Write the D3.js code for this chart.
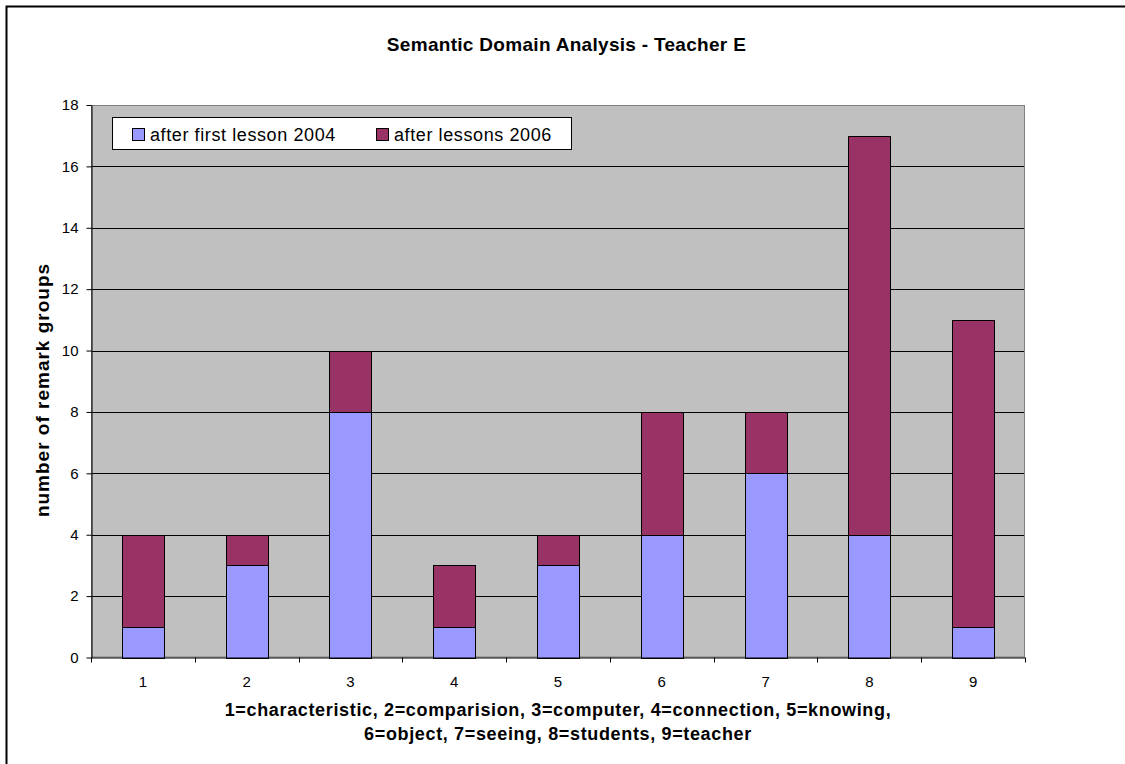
<!DOCTYPE html>
<html><head><meta charset="utf-8">
<script src="https://cdn.jsdelivr.net/npm/d3@7"></script>
<style>body{margin:0;background:#fff;}svg{display:block;font-family:"Liberation Sans",Arial,sans-serif;}</style>
</head><body>
<svg id="c" width="1125" height="764"></svg>
<script>
const categories = ["1","2","3","4","5","6","7","8","9"];
const series1 = [1,3,8,1,3,4,6,4,1];
const series2 = [3,1,2,2,1,4,2,13,10];
const seriesNames = ["after first lesson 2004","after lessons 2006"];
const colors = ["#9999FF","#993366"];
const yTicks = [0,2,4,6,8,10,12,14,16,18];

const svg = d3.select("#c");
const L = 91, R = 1025, T = 105, B = 657.5;

svg.append("rect").attr("x",6.5).attr("y",6.5).attr("width",1140).attr("height",780)
  .attr("fill","#fff").attr("stroke","#000").attr("stroke-width",2);

const x = d3.scaleBand().domain(categories).range([L,R]).paddingInner(0.595).paddingOuter(0.2975);
const y = d3.scaleLinear().domain([0,18]).range([B,T]);

svg.append("rect").attr("x",L).attr("y",T).attr("width",R-L).attr("height",B-T)
  .attr("fill","#C0C0C0");

svg.append("g").selectAll("line").data(yTicks.slice(1)).join("line")
  .attr("x1",L).attr("x2",R).attr("y1",d=>Math.round(y(d))+0.5).attr("y2",d=>Math.round(y(d))+0.5)
  .attr("stroke","#000").attr("stroke-width",1);

svg.append("rect").attr("x",L+0.5).attr("y",T+0.5).attr("width",R-L-1).attr("height",B-T-1)
  .attr("fill","none").attr("stroke","#808080").attr("stroke-width",1);

const stack = d3.stack().keys([0,1])(categories.map((c,i)=>({0:series1[i],1:series2[i],cat:c})));
svg.append("g").selectAll("g").data(stack).join("g").attr("fill",(d,i)=>colors[i])
  .selectAll("rect").data(d=>d).join("rect")
  .attr("x",d=>Math.round(x(d.data.cat))+0.5)
  .attr("y",d=>Math.round(y(d[1]))+0.5)
  .attr("width",Math.round(x.bandwidth()))
  .attr("height",d=>Math.round(y(d[0]))-Math.round(y(d[1])))
  .attr("stroke","#000").attr("stroke-width",1);

// y axis
const ya = svg.append("g").attr("transform",`translate(${L+0.5},0)`)
  .call(d3.axisLeft(y).tickValues(yTicks).tickSize(5).tickPadding(8).tickSizeOuter(0));
ya.select(".domain").attr("stroke","#000");
ya.selectAll("text").attr("font-size",15).attr("fill","#000").attr("font-family","'Liberation Sans',Arial,sans-serif");

// x axis
const xa = svg.append("g").attr("transform",`translate(0,${B})`);
xa.append("line").attr("x1",L).attr("x2",R).attr("y1",0.5).attr("y2",0.5).attr("stroke","#000");
const bounds = d3.range(categories.length+1).map(i=>L+(R-L)*i/categories.length);
xa.selectAll("line.t").data(bounds).join("line").attr("class","t")
  .attr("x1",d=>Math.round(d)+0.5).attr("x2",d=>Math.round(d)+0.5).attr("y1",0).attr("y2",5).attr("stroke","#000");
xa.selectAll("text").data(categories).join("text")
  .attr("x",d=>x(d)+x.bandwidth()/2).attr("y",29.5).attr("text-anchor","middle")
  .attr("font-size",15).text(d=>d);

// title
svg.append("text").attr("x",566.5).attr("y",51).attr("text-anchor","middle")
  .attr("font-size",19).attr("letter-spacing",0.3).attr("font-weight","bold").text("Semantic Domain Analysis - Teacher E");

// y title
svg.append("text").attr("transform","translate(49,390) rotate(-90)").attr("text-anchor","middle")
  .attr("font-size",19).attr("letter-spacing",1).attr("font-weight","bold").text("number of remark groups");

// x title
const xt = ["1=characteristic, 2=comparision, 3=computer, 4=connection, 5=knowing,","6=object, 7=seeing, 8=students, 9=teacher"];
svg.append("g").selectAll("text").data(xt).join("text")
  .attr("x",558).attr("y",(d,i)=>716+i*24).attr("text-anchor","middle")
  .attr("font-size",18).attr("letter-spacing",0.65).attr("font-weight","bold").text(d=>d);

// legend
const lg = svg.append("g");
lg.append("rect").attr("x",112.5).attr("y",117.5).attr("width",459).attr("height",32)
  .attr("fill","#fff").attr("stroke","#000");
const lx = [132,376];
seriesNames.forEach((n,i)=>{
  lg.append("rect").attr("x",lx[i]+0.5).attr("y",128.5).attr("width",12).attr("height",12)
    .attr("fill",colors[i]).attr("stroke","#000");
  lg.append("text").attr("x",lx[i]+18).attr("y",141).attr("font-size",18).attr("letter-spacing",0.6).text(n);
});
</script>
</body></html>
